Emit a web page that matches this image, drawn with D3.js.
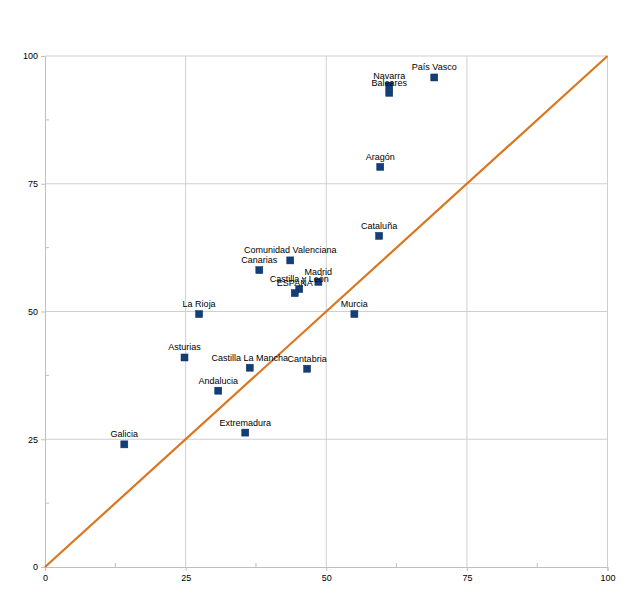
<!DOCTYPE html>
<html><head><meta charset="utf-8">
<script src="https://cdn.jsdelivr.net/npm/d3@7"></script>
<style>body{margin:0;background:#fff}svg{display:block}text{font-family:"Liberation Sans",Arial,sans-serif}</style>
</head><body><svg id="c" width="640" height="604"></svg>
<script>
const regions = ["País Vasco","Navarra","Baleares","Aragón","Cataluña","Comunidad Valenciana","Canarias","Madrid","Castilla y León","ESPAÑA","Murcia","La Rioja","Asturias","Castilla La Mancha","Cantabria","Andalucia","Extremadura","Galicia"];
const xValues = [69.2,61.2,61.2,59.6,59.4,43.6,38.1,48.6,45.2,44.4,55.0,27.4,24.8,36.4,46.6,30.8,35.6,14.1];
const yValues = [95.8,94.2,92.8,78.3,64.8,60.0,58.1,55.8,54.4,53.6,49.5,49.5,41.0,39.0,38.8,34.5,26.3,24.0];
const tickValues = [0,25,50,75,100];
const minorTicks = [12.5,37.5,62.5,87.5];
const lineX = [0,100], lineY = [0,100];

const svg = d3.select("#c");
const x = d3.scaleLinear().domain([0,100]).range([45,607.5]);
const y = d3.scaleLinear().domain([0,100]).range([567,56]);

// grid
const g = svg.append("g");
g.selectAll(".vx").data(tickValues.slice(1)).join("line")
 .attr("x1",d=>x(d)).attr("x2",d=>x(d)).attr("y1",y(0)).attr("y2",y(100))
 .attr("stroke","#cfcfcf").attr("stroke-width",1);
g.selectAll(".hy").data(tickValues.slice(1)).join("line")
 .attr("y1",d=>y(d)).attr("y2",d=>y(d)).attr("x1",x(0)).attr("x2",x(100))
 .attr("stroke","#cfcfcf").attr("stroke-width",1);

// axes
const xa = svg.append("g").attr("transform",`translate(0,${y(0)})`)
 .call(d3.axisBottom(x).tickValues(tickValues).tickSize(4).tickPadding(4).tickFormat(d3.format("d")));
const ya = svg.append("g").attr("transform",`translate(${x(0)},0)`)
 .call(d3.axisLeft(y).tickValues(tickValues).tickSize(4).tickPadding(3).tickFormat(d3.format("d")));
[xa,ya].forEach(a=>{a.select(".domain").attr("stroke","#bfbfbf");a.selectAll(".tick line").attr("stroke","#bfbfbf");
 a.selectAll("text").attr("font-size",9).attr("fill","#000").style("font-family","'Liberation Sans',Arial,sans-serif");});
// minor ticks
svg.append("g").selectAll("line").data(minorTicks).join("line")
 .attr("x1",d=>x(d)).attr("x2",d=>x(d)).attr("y1",y(0)-4).attr("y2",y(0))
 .attr("stroke","#bfbfbf");
svg.append("g").selectAll("line").data(minorTicks).join("line")
 .attr("y1",d=>y(d)).attr("y2",d=>y(d)).attr("x1",x(0)).attr("x2",x(0)+4)
 .attr("stroke","#bfbfbf");

// diagonal
svg.append("line").attr("x1",x(lineX[0])).attr("y1",y(lineY[0])).attr("x2",x(lineX[1])).attr("y2",y(lineY[1]))
 .attr("stroke","#d9761f").attr("stroke-width",2.2);

// points
const pts = regions.map((r,i)=>({r,x:xValues[i],y:yValues[i]}));
svg.append("g").selectAll("rect").data(pts).join("rect")
 .attr("x",d=>x(d.x)-3.5).attr("y",d=>y(d.y)-3.5).attr("width",7).attr("height",7)
 .attr("fill","#123f7a").attr("stroke","#0b2c5c").attr("stroke-width",0.5);
svg.append("g").selectAll("text").data(pts).join("text")
 .attr("x",d=>x(d.x)).attr("y",d=>y(d.y)-7).attr("text-anchor","middle")
 .attr("font-size",9).attr("fill","#000").text(d=>d.r);
</script></body></html>
